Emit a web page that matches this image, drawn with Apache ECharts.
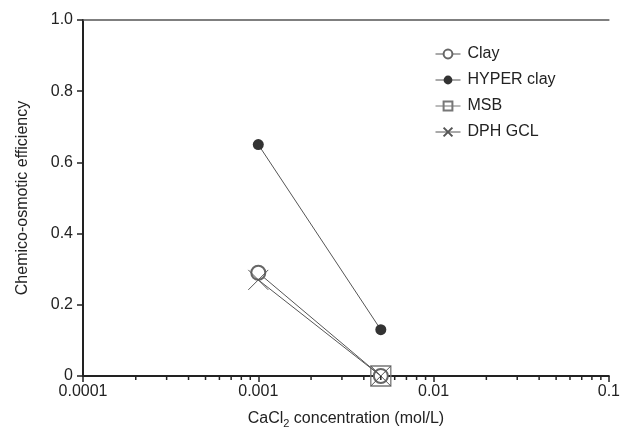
<!DOCTYPE html>
<html>
<head>
<meta charset="utf-8">
<script src="https://cdn.jsdelivr.net/npm/echarts@6/dist/echarts.min.js"></script>
<style>html,body{margin:0;padding:0;background:#fff}#c{width:623px;height:434px}</style>
</head>
<body>
<div id="c"></div>
<script>
// ---- data ----
var seriesNames = ['Clay', 'HYPER clay', 'MSB', 'DPH GCL'];
var clayX = [0.001, 0.005];
var clayY = [0.29, 0];
var hyperX = [0.001, 0.005];
var hyperY = [0.65, 0.13];
var msbX = [0.005];
var msbY = [0];
var dphX = [0.001, 0.005];
var dphY = [0.27, 0];
var xTickLabels = ['0.0001', '0.001', '0.01', '0.1'];
var yTickLabels = ['0', '0.2', '0.4', '0.6', '0.8', '1.0'];
var minorTicks = [0.0002,0.0003,0.0004,0.0005,0.0006,0.0007,0.0008,0.0009,
                  0.002,0.003,0.004,0.005,0.006,0.007,0.008,0.009,
                  0.02,0.03,0.04,0.05,0.06,0.07,0.08,0.09];

function pairs(xs, ys){ return xs.map(function(x,i){return [x, ys[i]];}); }

var FONT = '"Liberation Sans", Arial, sans-serif';
var FS = 16;
var lineC = '#555';
var chart = echarts.init(document.getElementById('c'));
var option = {
  animation: false,
  textStyle: {fontFamily: FONT},
  grid: {left: 83, right: 14, top: 20, bottom: 58},
  legend: {
    orient: 'vertical', left: 430, top: 41,
    itemWidth: 25, itemHeight: 11, itemGap: 10,
    lineStyle: {width: 1},
    textStyle: {fontSize: FS, color: '#222', fontFamily: FONT, padding: [0,0,0,2]},
    data: seriesNames
  },
  xAxis: [{
    type: 'log', logBase: 10, min: 0.0001, max: 0.1,
    position: 'bottom',
    name: 'CaCl{sub|2} concentration (mol/L)',
    nameLocation: 'middle', nameGap: 33,
    nameTextStyle: {fontSize: FS, color: '#222', fontFamily: FONT,
      rich: {sub: {fontSize: 11, verticalAlign: 'bottom', padding: [9,0,0,0], color: '#222', fontFamily: FONT}}},
    axisLine: {lineStyle: {color: '#222', width: 2}},
    axisTick: {show: true, length: 6, inside: false, lineStyle: {color: '#222', width: 1.5}},
    axisLabel: {fontSize: FS, color: '#222', margin: 8, fontFamily: FONT,
      formatter: function(v){ var i = Math.round(Math.log10(v) + 4); return xTickLabels[i] || ''; }},
    splitLine: {show: false}
  }, {
    type: 'log', logBase: 10, min: 0.0001, max: 0.1, position: 'top',
    axisLine: {lineStyle: {color: '#555', width: 1.5}},
    axisTick: {show: false}, axisLabel: {show: false}, splitLine: {show: false}
  }],
  yAxis: {
    type: 'value', min: 0, max: 1, interval: 0.2,
    name: 'Chemico-osmotic efficiency',
    nameLocation: 'middle', nameGap: 52, nameRotate: 90,
    nameTextStyle: {fontSize: FS, color: '#222', fontFamily: FONT},
    axisLine: {show: true, lineStyle: {color: '#222', width: 2}},
    axisTick: {show: true, length: 6, lineStyle: {color: '#222', width: 1.5}},
    axisLabel: {fontSize: FS, color: '#222', margin: 10, fontFamily: FONT,
      formatter: function(v){ return yTickLabels[Math.round(v*5)]; }},
    splitLine: {show: false}
  },
  series: [{
    name: 'Clay', type: 'line', data: pairs(clayX, clayY),
    symbol: 'emptyCircle', symbolSize: 14, clip: false, z: 3,
    lineStyle: {color: lineC, width: 1},
    itemStyle: {color: '#666', borderColor: '#666', borderWidth: 1}
  }, {
    name: 'HYPER clay', type: 'line', data: pairs(hyperX, hyperY),
    symbol: 'circle', symbolSize: 11, clip: false, z: 3,
    lineStyle: {color: lineC, width: 1},
    itemStyle: {color: '#333', borderColor: '#333', borderWidth: 0}
  }, {
    name: 'MSB', type: 'line', data: pairs(msbX, msbY),
    symbol: 'path://M0,0L10,0L10,10L0,10Z', symbolSize: 20, clip: false, z: 4,
    showAllSymbol: true,
    lineStyle: {color: '#777', width: 1},
    itemStyle: {color: 'rgba(255,255,255,0)', borderColor: '#777', borderWidth: 1.3}
  }, {
    name: 'DPH GCL', type: 'line', data: pairs(dphX, dphY),
    symbol: 'path://M0,0L10,10M10,0L0,10', symbolSize: 20, clip: false, z: 5,
    lineStyle: {color: lineC, width: 1},
    itemStyle: {color: 'rgba(255,255,255,0)', borderColor: '#555', borderWidth: 1}
  }, {
    type: 'custom', silent: true, clip: false, z: 6,
    data: minorTicks.map(function(v){ return [v, 0]; }),
    renderItem: function(params, api){
      var p = api.coord([api.value(0), 0]);
      return {type: 'line', shape: {x1: p[0], y1: p[1], x2: p[0], y2: p[1] + 4},
        style: {stroke: '#222', lineWidth: 1.5}};
    }
  }]
};
chart.setOption(option);
</script>
</body>
</html>
